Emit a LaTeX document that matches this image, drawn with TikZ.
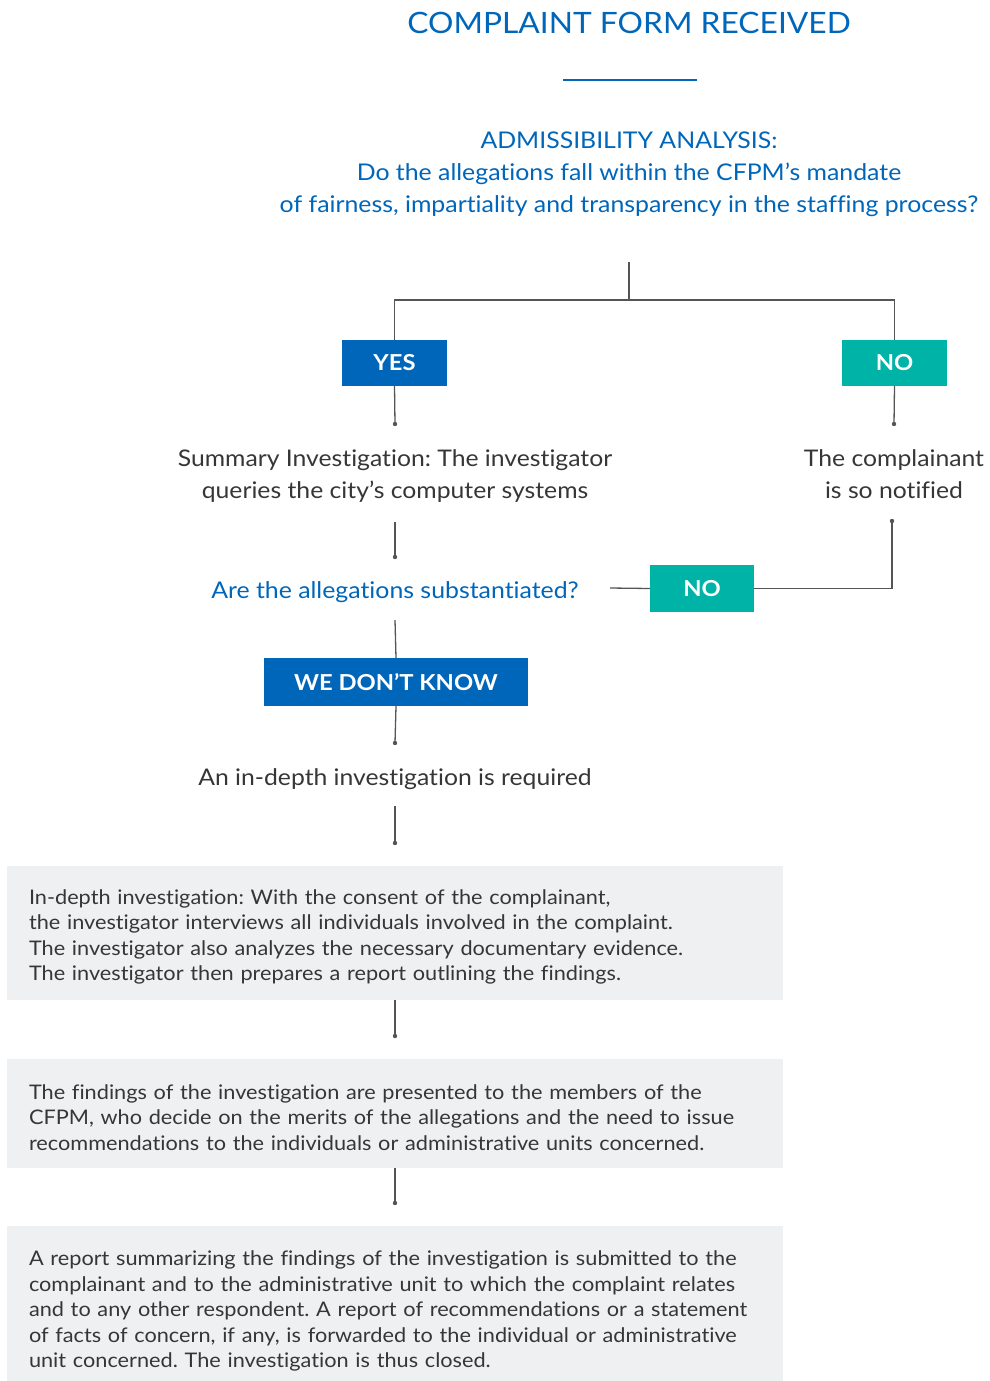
\documentclass[tikz,border=0pt]{standalone}
\usepackage{fontspec}
\setmainfont{Lato}[FakeStretch=1.08, Ligatures=NoCommon]
\usetikzlibrary{positioning}
\definecolor{cfblue}{HTML}{0066BA}
\definecolor{cfteal}{HTML}{00B3A7}
\definecolor{cftext}{HTML}{363636}
\definecolor{cfbox}{HTML}{EFF0F2}
\definecolor{cfline}{HTML}{555555}
\newcommand{\paneltext}[1]{\raisebox{-4pt}[\height][\depth]{\parbox{732pt}{#1}}}
\tikzset{
  x=1pt, y=-1pt,
  heading/.style={text=cfblue, font=\fontsize{29.4}{36}\selectfont, inner sep=0pt},
  question/.style={text=cfblue, font=\fontsize{23}{32}\selectfont, align=center, inner sep=0pt},
  plain/.style={text=cftext, font=\fontsize{22.9}{32}\selectfont, align=center, inner sep=0pt},
  tag/.style={text=white, font=\bfseries\fontsize{22}{26}\selectfont, inner sep=0pt},
  bluetag/.style={tag, fill=cfblue},
  tealtag/.style={tag, fill=cfteal},
  panel/.style={fill=cfbox, text=cftext, font=\fontsize{20.1}{25.5}\selectfont,
    align=left, text width=732pt, inner xsep=22pt, inner ysep=0pt, minimum width=776pt},
  link/.style={draw=cfline, line width=1.3pt},
  dot/.style={fill=cfline}
}
\begin{document}
\frenchspacing
\begin{tikzpicture}
\useasboundingbox (0,0) rectangle (989,1381);

% heading with a short rule beneath
\node[heading] (title) at (629,23) {COMPLAINT FORM RECEIVED};
\draw[cfblue, line width=2pt] (563,80) -- (697,80);

\node[question] (adm) at (629,174) {ADMISSIBILITY ANALYSIS:\\
  Do the allegations fall within the CFPM’s mandate\\
  of fairness, impartiality and transparency in the staffing process?};

% first decision: yes / no
\node[bluetag, minimum width=105pt, minimum height=46pt] (yes) at (394.5,363) {YES};
\node[tealtag, minimum width=105pt, minimum height=46pt] (no1) at (894.5,363) {NO};

\coordinate (top) at (629,262);
\coordinate (fork) at (629,300);
\draw[link] (top) -- (fork);
\draw[link] (fork) -| (yes.north);
\draw[link] (fork) -| (no1.north);

\coordinate (d1) at (395,424);
\coordinate (d3) at (894,424);
\draw[link] (yes.south) -- (d1);
\draw[link] (no1.south) -- (d3);
\fill[dot] (d1) circle (2.2);
\fill[dot] (d3) circle (2.2);

\node[plain] (sum) at (395,476) {Summary Investigation: The investigator\\queries the city’s computer systems};
\node[plain] (cn) at (894,474) {The complainant\\is so notified};

% summary investigation outcome
\coordinate (s1) at (395,522);
\coordinate (d2) at (395,557);
\draw[link] (s1) -- (d2);
\fill[dot] (d2) circle (2.2);

\node[question] (subst) at (395,592) {Are the allegations substantiated?};

\node[tealtag, minimum width=104pt, minimum height=47pt] (no2) at (702,588.5) {NO};
\coordinate (n1) at (892,521);
\coordinate (n0) at (610,588);
\draw[link] (n1) |- (no2.east);
\draw[link] (no2.west) -- (n0);
\fill[dot] (n1) circle (2.2);

\node[bluetag, minimum width=264pt, minimum height=48pt] (wdk) at (396,682) {WE DON’T KNOW};
\coordinate (q1) at (395,620);
\coordinate (d4) at (395,743);
\draw[link] (q1) -- (wdk.north);
\draw[link] (wdk.south) -- (d4);
\fill[dot] (d4) circle (2.2);

\node[plain] (req) at (395,779) {An in-depth investigation is required};
\coordinate (r1) at (395,806);
\coordinate (d5) at (395,843);
\draw[link] (r1) -- (d5);
\fill[dot] (d5) circle (2.2);

% detailed steps
\node[panel, minimum height=134pt] (p1) at (395,933) {\paneltext{In-depth investigation: With the consent of the complainant,\\
the investigator interviews all individuals involved in the complaint.\\
The investigator also analyzes the necessary documentary evidence.\\
The investigator then prepares a report outlining the findings.}};

\node[panel, minimum height=109pt] (p2) at (395,1113.5) {\paneltext{The findings of the investigation are presented to the members of the\\
CFPM, who decide on the merits of the allegations and the need to issue\\
recommendations to the individuals or administrative units concerned.}};

\node[panel, minimum height=162pt] (p3) at (395,1307) {\paneltext{A report summarizing the findings of the investigation is submitted to the\\
complainant and to the administrative unit to which the complaint relates\\
and to any other respondent. A report of recommendations or a statement\\
of facts of concern, if any, is forwarded to the individual or administrative\\
unit concerned. The investigation is thus closed.}};

\coordinate (d6) at (395,1036);
\coordinate (d7) at (395,1203);
\draw[link] (p1.south) -- (d6);
\draw[link] (p2.south) -- (d7);
\fill[dot] (d6) circle (2.2);
\fill[dot] (d7) circle (2.2);
\end{tikzpicture}
\end{document}
